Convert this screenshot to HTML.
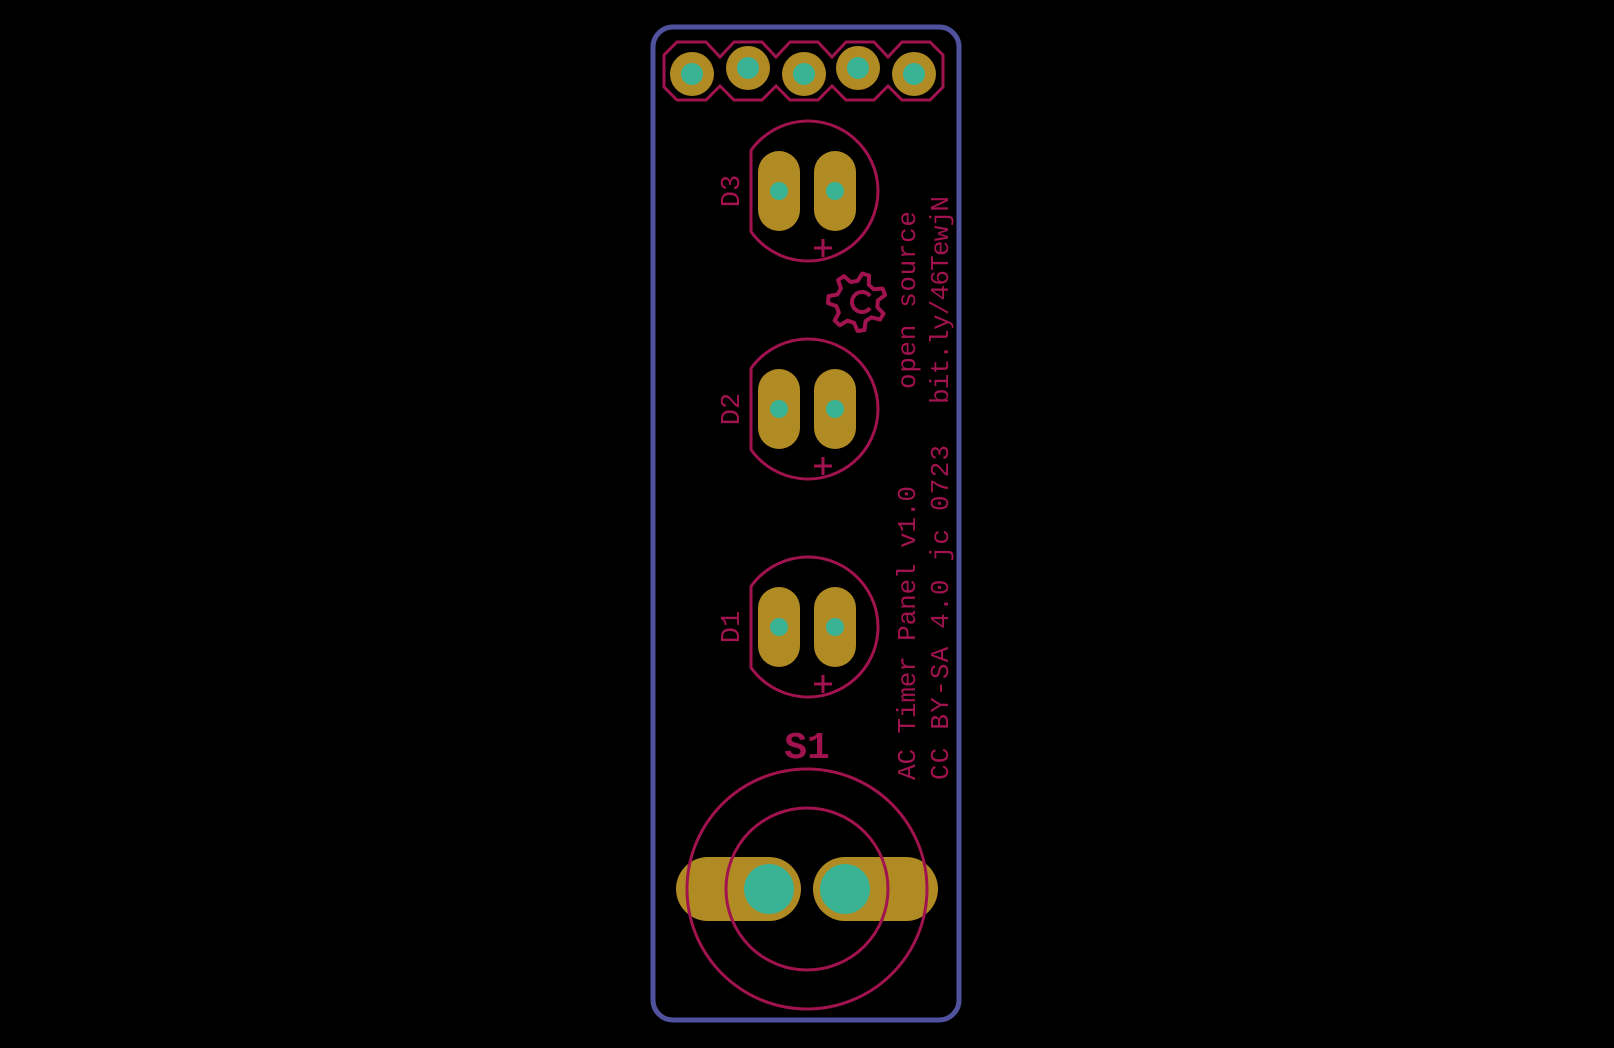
<!DOCTYPE html>
<html><head><meta charset="utf-8"><style>
html,body{margin:0;padding:0;background:#000;}
svg{display:block;}
text{font-family:"Liberation Mono","DejaVu Sans Mono",monospace;fill:#a0134f;}
</style></head><body>
<svg id="pcb" width="1614" height="1048" viewBox="0 0 1614 1048">
<rect width="1614" height="1048" fill="#000"/>
<rect x="653" y="27" width="306" height="993" rx="20" fill="none" stroke="#51529e" stroke-width="5"/>
<g id="hdr">
<polygon fill="none" stroke="#a0134f" stroke-width="3" points="677,42 706,42 720,57 734,42 762,42 776,57 790,42 818,42 832,57 846,42 874,42 888,57 902,42 930,42 943,55 943,87 930,100 902,100 888,86 874,100 846,100 832,86 818,100 790,100 776,86 762,100 734,100 720,86 706,100 677,100 664,87 664,55"/>
</g>
<g id="leds"></g>
<g>
<text x="807" y="758" font-size="38" font-weight="bold" text-anchor="middle">S1</text>
<rect x="676" y="857" width="125" height="64" rx="32" fill="#b08a22"/>
<rect x="813" y="857" width="125" height="64" rx="32" fill="#b08a22"/>
<circle cx="769" cy="889" r="25" fill="#3ab394"/>
<circle cx="845" cy="889" r="25" fill="#3ab394"/>
<circle cx="807" cy="889" r="120" fill="none" stroke="#a0134f" stroke-width="3"/>
<circle cx="807" cy="889" r="81" fill="none" stroke="#a0134f" stroke-width="3"/>
</g>
<path id="gear" fill="none" stroke="#a0134f" stroke-width="4" stroke-linejoin="round"/>
<text x="0" y="0" font-size="26" textLength="294" transform="translate(915,780) rotate(-90)">AC Timer Panel v1.0</text>
<text x="0" y="0" font-size="26" textLength="335" transform="translate(948,780) rotate(-90)">CC BY-SA 4.0 jc 0723</text>
<text x="0" y="0" font-size="26" textLength="178" transform="translate(915,389) rotate(-90)">open source</text>
<text x="0" y="0" font-size="26" textLength="208" transform="translate(948,404) rotate(-90)">bit.ly/46TewjN</text>
</svg>
<script>
const NS="http://www.w3.org/2000/svg";
const headerX=[692,748,804,858,914];
const headerY=[74,68,74,68,74];
const hdr=document.getElementById('hdr');
headerX.forEach((x,i)=>{
  const c=document.createElementNS(NS,'circle');c.setAttribute('cx',x);c.setAttribute('cy',headerY[i]);c.setAttribute('r',22);c.setAttribute('fill','#b08a22');
  
  
  hdr.appendChild(c);
  const d=document.createElementNS(NS,'circle');d.setAttribute('cx',x);d.setAttribute('cy',headerY[i]);d.setAttribute('r',11);d.setAttribute('fill','#3ab394');
  
  
  hdr.appendChild(d);
});
const ledNames=['D3','D2','D1'];
const ledY=[191,409,627];
const leds=document.getElementById('leds');
ledNames.forEach((n,i)=>{
  const y=ledY[i];const g=document.createElementNS(NS,'g');
  
  
  const cx=808,r=70,fx=751;const dy=Math.sqrt(r*r-(cx-fx)*(cx-fx));
  g.innerHTML=`<path d="M${fx},${y-dy} A${r},${r} 0 1 1 ${fx},${y+dy} Z" fill="none" stroke="#a0134f" stroke-width="3"/>
<rect x="758" y="${y-40}" width="42" height="80" rx="21" fill="#b08a22"/>
<rect x="814" y="${y-40}" width="42" height="80" rx="21" fill="#b08a22"/>
<circle cx="779" cy="${y}" r="9" fill="#3ab394"/><circle cx="835" cy="${y}" r="9" fill="#3ab394"/>
<path d="M814,${y+57} h18 M823,${y+48} v18" stroke="#a0134f" stroke-width="3"/>
<text font-size="27" text-anchor="middle" transform="translate(739,${y}) rotate(-90)">${n}</text>`;
  leds.appendChild(g);
});
// gear
(function(){
  const cx=857,cy=302,ro=29,ri=21,teeth=7;let d='';
  for(let k=0;k<teeth;k++){
    const a0=(k/teeth)*2*Math.PI+0.25, w=2*Math.PI/teeth;
    const pts=[[ri,a0],[ro,a0+w*0.18],[ro,a0+w*0.45],[ri,a0+w*0.63]];
    pts.forEach((p,j)=>{d+=(k==0&&j==0?'M':'L')+(cx+p[0]*Math.cos(p[1])).toFixed(1)+','+(cy+p[0]*Math.sin(p[1])).toFixed(1)+' ';});
  }
  d+='Z M'+(cx+13)+','+(cy-6)+' A10,10 0 1 0 '+(cx+13)+','+(cy+6);
  document.getElementById('gear').setAttribute('d',d);
})();
</script>
</body></html>
